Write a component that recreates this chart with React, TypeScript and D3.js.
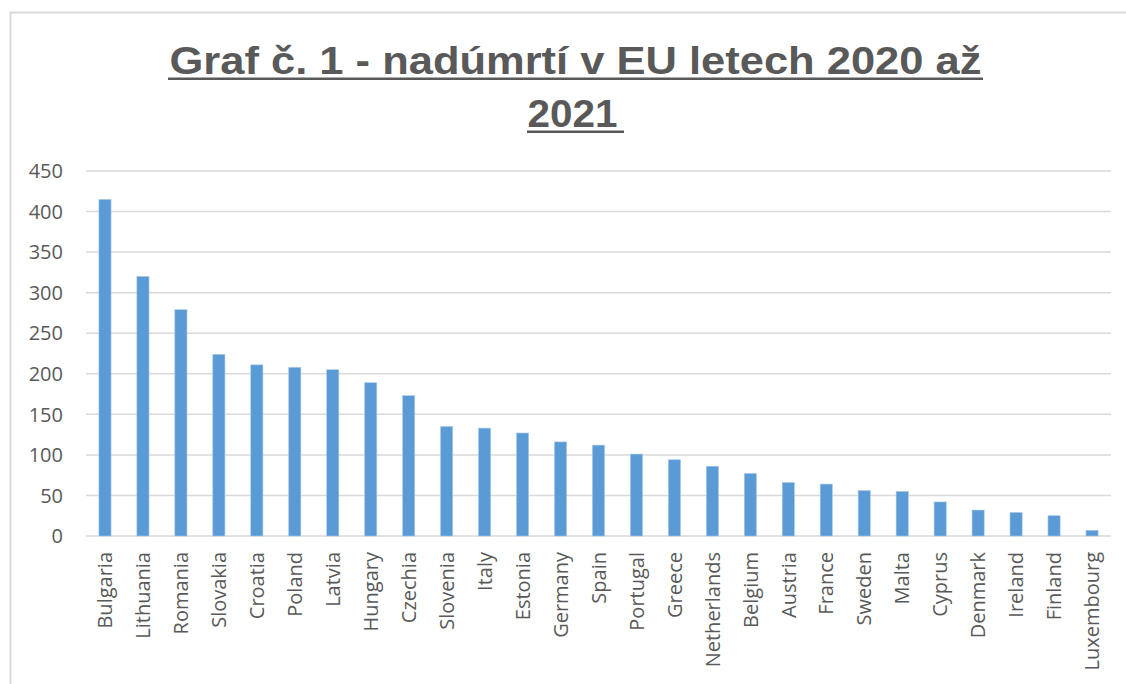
import React from "react";
import * as d3 from "d3";

const countries = [
  "Bulgaria", "Lithuania", "Romania", "Slovakia", "Croatia", "Poland", "Latvia",
  "Hungary", "Czechia", "Slovenia", "Italy", "Estonia", "Germany", "Spain",
  "Portugal", "Greece", "Netherlands", "Belgium", "Austria", "France", "Sweden",
  "Malta", "Cyprus", "Denmark", "Ireland", "Finland", "Luxembourg",
];
const excessDeaths = [
  415, 320, 279, 224, 211, 208, 205, 189, 173, 135, 133, 127, 116, 112, 101, 94,
  86, 77, 66, 64, 56, 55, 42, 32, 29, 25, 7,
];
const yTicks = [0, 50, 100, 150, 200, 250, 300, 350, 400, 450];
const titleLines = ["Graf č. 1 - nadúmrtí v EU letech 2020 až", "2021"];

const W = 1126;
const H = 684;
const plot = { left: 86, right: 1111, top: 171, bottom: 536 };

export default function App() {
  const x = d3
    .scaleBand<string>()
    .domain(countries)
    .range([plot.left, plot.right])
    .paddingInner(0.68)
    .paddingOuter(0.34);
  const y = d3.scaleLinear().domain([0, 450]).range([plot.bottom, plot.top]);
  const gray = "#595959";
  const fontAxis = "'Open Sans', 'DejaVu Sans', sans-serif";
  const fontTitle = "'Liberation Sans', Arial, sans-serif";
  const cx = 575.5;

  return (
    <svg
      width={W}
      height={H}
      style={{ position: "absolute", left: 0, top: 0, background: "#fff" }}
    >
      <rect x={0} y={0} width={W} height={H} fill="#fff" />
      {/* chart frame */}
      <path d={`M10.5,${H + 5} V12.5 H${W + 5}`} fill="none" stroke="#d9d9d9" strokeWidth={2} />

      {/* title */}
      <text
        x={cx}
        y={73.5}
        textAnchor="middle"
        fontFamily={fontTitle}
        fontWeight="bold"
        fontSize={38}
        fill={gray}
        textLength={812}
        lengthAdjust="spacingAndGlyphs"
      >
        {titleLines[0]}
      </text>
      <line x1={168} x2={983} y1={78.7} y2={78.7} stroke={gray} strokeWidth={2.5} />
      <text
        x={cx - 3}
        y={126.5}
        textAnchor="middle"
        fontFamily={fontTitle}
        fontWeight="bold"
        fontSize={38}
        fill={gray}
        textLength={90}
        lengthAdjust="spacingAndGlyphs"
      >
        {titleLines[1]}
      </text>
      <line x1={527} x2={624} y1={131.7} y2={131.7} stroke={gray} strokeWidth={2.5} />

      {/* gridlines */}
      {yTicks.map((t) => (
        <g key={t}>
          <line
            x1={plot.left}
            x2={plot.right}
            y1={y(t)}
            y2={y(t)}
            stroke="#d9d9d9"
            strokeWidth={1.5}
          />
          <text
            x={63}
            y={y(t)}
            dy="0.36em"
            textAnchor="end"
            fontFamily={fontAxis}
            fontSize={20}
            fill={gray}
          >
            {t}
          </text>
        </g>
      ))}

      {/* bars */}
      {countries.map((c, i) => (
        <rect
          key={c}
          x={x(c)!}
          y={y(excessDeaths[i])}
          width={x.bandwidth()}
          height={y(0) - y(excessDeaths[i])}
          fill="#5b9bd5"
          stroke="#a9c8ea"
          strokeWidth={0.6}
        />
      ))}

      {/* x labels */}
      {countries.map((c) => {
        const px = x(c)! + x.bandwidth() / 2;
        const py = 552;
        return (
          <text
            key={c}
            transform={`translate(${px},${py}) rotate(-90)`}
            dy="0.36em"
            textAnchor="end"
            fontFamily={fontAxis}
            fontSize={20}
            fill={gray}
          >
            {c}
          </text>
        );
      })}
    </svg>
  );
}
